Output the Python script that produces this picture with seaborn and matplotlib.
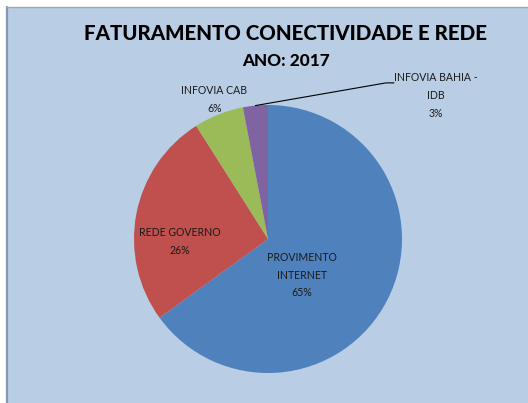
import numpy as np
import matplotlib
matplotlib.use("Agg")
import matplotlib.pyplot as plt
from matplotlib.patches import Rectangle
import seaborn as sns

# ── data ──────────────────────────────────────────────────────────────────────

categorias = ["PROVIMENTO\nINTERNET", "REDE GOVERNO", "INFOVIA CAB", "INFOVIA BAHIA -\nIDB"]
valores    = [65, 26, 6, 3]
cores      = ["#4F81BD", "#C0504D", "#9BBB59", "#8064A2"]

titulo    = "FATURAMENTO CONECTIVIDADE E REDE"
subtitulo = "ANO: 2017"

# label positions (pie radius units) — Excel-like placement
label_pos = [(0.25, -0.27), (-0.66, -0.02), (-0.40, 1.04), (1.25, 1.07)]

# ── figure ────────────────────────────────────────────────────────────────────

sns.set_style("white")
plt.rcParams["font.family"] = ["Lato", "DejaVu Sans"]

W, H = 528, 403
fig = plt.figure(figsize=(W / 100, H / 100), dpi=100)
fig.patch.set_facecolor("white")

# chart area background with grey frame on left/top
fig.patches.append(Rectangle((7 / W, 0), 1, 1 - 7 / H, transform=fig.transFigure,
                             facecolor="#B9CDE5", edgecolor="none", zorder=-10))
fig.add_artist(plt.Line2D([6.5 / W, 6.5 / W], [0, 1 - 6.5 / H], transform=fig.transFigure,
                          color="#8497AD", lw=1.6, zorder=-5))
fig.add_artist(plt.Line2D([6.5 / W, 1], [1 - 6.5 / H, 1 - 6.5 / H], transform=fig.transFigure,
                          color="#A6A6A6", lw=1.0, zorder=-5))

cx, cy, r = 268, 403 - 239, 134
ax = fig.add_axes([(cx - r) / W, (cy - r) / H, 2 * r / W, 2 * r / H])
ax.set_facecolor("none")

wedges, _ = ax.pie(valores, colors=cores, startangle=90, counterclock=False,
                   radius=1, wedgeprops=dict(linewidth=0))
ax.set_xlim(-1, 1)
ax.set_ylim(-1, 1)
ax.set_aspect("equal")
ax.axis("off")

for w, nome, v, (lx, ly) in zip(wedges, categorias, valores, label_pos):
    ax.text(lx, ly, f"{nome}\n{v}%", ha="center", va="center", fontsize=7.6,
            color="#1A1A1A", linespacing=1.75, clip_on=False)

# leader line for the small purple slice
w = wedges[3]
mid = np.deg2rad((w.theta1 + w.theta2) / 2)
ax.plot([np.cos(mid), 0.88, 0.94], [np.sin(mid), 1.165, 1.165], color="black",
        lw=0.8, clip_on=False)

fig.text(286 / W, 1 - 33 / H, titulo, ha="center", va="center",
         fontsize=14.8, fontweight=900, color="black")
fig.text(286 / W, 1 - 61 / H, subtitulo, ha="center", va="center",
         fontsize=12.3, fontweight=900, color="black")

fig.savefig("out.png", dpi=100)
